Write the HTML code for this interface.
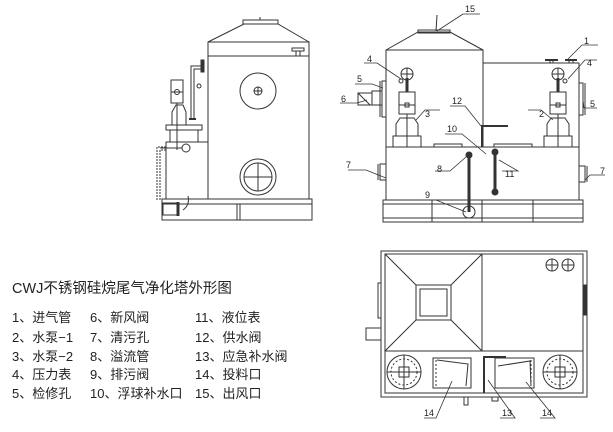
<!DOCTYPE html>
<html><head><meta charset="utf-8"><style>
html,body{margin:0;padding:0;background:#fff;}
svg{display:block;}
text{font-family:"Liberation Sans","Noto Sans CJK SC",sans-serif;fill:#222;}
</style></head><body>
<svg width="613" height="432" viewBox="0 0 613 432" xmlns="http://www.w3.org/2000/svg">
<g fill="none" stroke="#333" stroke-width="1">
<!-- LEFT SIDE VIEW -->
<rect x="208" y="42" width="101" height="157"/>
<line x1="208" y1="56" x2="309" y2="56"/>
<polyline points="208,42 244,24 278,24 309,42"/>
<rect x="243" y="20" width="35" height="4"/>
<line x1="260" y1="17" x2="260" y2="20"/>
<rect x="292" y="48" width="12" height="3"/><line x1="296" y1="51" x2="296" y2="56"/><line x1="300" y1="51" x2="300" y2="56"/>
<circle cx="258" cy="91" r="18"/><circle cx="258" cy="91" r="4"/><line x1="254" y1="91" x2="262" y2="91"/><line x1="258" y1="87" x2="258" y2="95"/>
<circle cx="258" cy="177" r="18"/><circle cx="258" cy="177" r="14"/><line x1="244" y1="177" x2="272" y2="177"/><line x1="258" y1="163" x2="258" y2="191"/>
<rect x="166" y="142" width="42" height="57"/>
<rect x="166" y="125" width="36" height="5"/>
<rect x="170" y="130" width="28" height="12"/>
<polygon points="172,125 172,112 176,105 183,105 186,112 186,125"/>
<rect x="171" y="80" width="12" height="23"/><line x1="171" y1="92" x2="183" y2="92"/><circle cx="177" cy="92" r="2.5"/>
<line x1="177" y1="103" x2="177" y2="150"/>
<circle cx="186" cy="148" r="4"/><line x1="160" y1="148" x2="182" y2="148"/>
<path d="M191 120 V66 H202 M194 120 V69 H202" /><rect x="201" y="60" width="3" height="12" fill="#333"/>
<line x1="189" y1="119" x2="196" y2="119" stroke-width="2"/>
<circle cx="199" cy="86" r="2"/>
<path d="M160 200 V150 H166 M157 200 V147 H166" stroke-dasharray="2 1"/>
<rect x="162" y="199" width="150" height="21"/>
<line x1="162" y1="204" x2="312" y2="204"/>
<line x1="237" y1="204" x2="237" y2="220"/><line x1="240" y1="204" x2="240" y2="220"/>
<rect x="163" y="203" width="14" height="12"/><line x1="178" y1="202" x2="178" y2="216" stroke-width="3"/>
<path d="M183 210 Q190 205 188 196"/>
<!-- RIGHT FRONT VIEW -->
<rect x="386" y="50" width="97" height="97"/>
<polyline points="386,50 418,32 450,32 483,50"/>
<rect x="418" y="30" width="32" height="3"/>
<line x1="437" y1="15" x2="436" y2="31"/>
<rect x="483" y="63" width="96" height="84"/>
<rect x="386" y="147" width="193" height="53"/>
<rect x="383" y="200" width="200" height="22"/>
<line x1="383" y1="204" x2="583" y2="204"/><line x1="383" y1="218" x2="583" y2="218"/>
<line x1="432" y1="200" x2="432" y2="222"/><line x1="482" y1="200" x2="482" y2="222"/><line x1="533" y1="200" x2="533" y2="222"/>
<rect x="380" y="164" width="6" height="16"/><line x1="378" y1="164" x2="378" y2="180"/>
<rect x="579" y="166" width="6" height="16"/><line x1="587" y1="166" x2="587" y2="182"/>
<rect x="579" y="83" width="4" height="32"/><line x1="585" y1="83" x2="585" y2="115"/>
<rect x="382" y="81" width="4" height="36"/><line x1="380" y1="81" x2="380" y2="117"/>
<rect x="358" y="93" width="14" height="12"/><line x1="358" y1="93" x2="370" y2="105"/><rect x="372" y="91" width="10" height="14"/>
<line x1="545" y1="60" x2="558" y2="60" stroke-width="2"/><line x1="550" y1="60" x2="550" y2="63"/><line x1="553" y1="60" x2="553" y2="63"/>
<line x1="565" y1="60" x2="577" y2="60" stroke-width="2"/><line x1="569" y1="60" x2="569" y2="63"/><line x1="573" y1="60" x2="573" y2="63"/>
<!-- pumps -->
<g id="pump">
<rect x="393" y="136" width="28" height="11"/>
<polygon points="396,136 396,124 400,118 414,118 418,124 418,136"/>
<rect x="399" y="92" width="16" height="22"/><line x1="399" y1="105" x2="415" y2="105"/><rect x="405" y="103" width="4" height="4"/>
<line x1="407" y1="114" x2="407" y2="147"/><line x1="407" y1="78" x2="407" y2="92" stroke-width="3"/>
<circle cx="407" cy="74" r="6"/><line x1="401" y1="74" x2="413" y2="74"/><line x1="407" y1="68" x2="407" y2="80"/>
</g>
<use href="#pump" transform="translate(151,0)"/>
<circle cx="401" cy="81" r="2"/><circle cx="565" cy="81" r="2"/>
<rect x="434" y="144" width="28" height="3"/><rect x="494" y="144" width="38" height="3"/>
<line x1="482" y1="125" x2="482" y2="147" stroke-width="2"/><line x1="482" y1="126" x2="508" y2="126" stroke-width="2"/>
<line x1="469" y1="155" x2="469" y2="212" stroke-width="3"/><circle cx="469" cy="155" r="3" fill="#333"/><circle cx="469" cy="212" r="6"/>
<line x1="495" y1="152" x2="495" y2="192" stroke-width="3"/><circle cx="495" cy="152" r="3" fill="#333"/><circle cx="495" cy="192" r="3" fill="#333"/>
<!-- leaders -->
<g stroke-width="0.8">
<path d="M463 14 H480 M463 14 L437 31"/>
<path d="M582 45 H598 M582 45 L567 60"/>
<path d="M364 63 H377 M377 63 L401 79"/>
<path d="M585 60 H597 M585 60 L568 79"/>
<path d="M355 84 H372 M372 84 L383 88"/>
<path d="M597 108 H584 M584 108 L583 100"/>
<path d="M340 103 H357 L367 100"/>
<path d="M425 110 L416 120 M425 110 H440"/>
<path d="M541 110 L553 120 M541 110 H528"/>
<path d="M450 106 H465 L481 126"/>
<path d="M445 134 H462 L486 154"/>
<path d="M348 170 H366 L386 178"/>
<path d="M590 175 H605 M590 175 L585 180"/>
<path d="M435 171 H450 L466 157"/>
<path d="M502 171 H518 L499 160"/>
<path d="M420 200 H436 L466 212"/>
</g>
<!-- PLAN VIEW -->
<rect x="381" y="251" width="206" height="146"/>
<rect x="385" y="254" width="198" height="139"/>
<line x1="482" y1="254" x2="482" y2="351"/>
<line x1="385" y1="351" x2="583" y2="351"/>
<rect x="416" y="285" width="35" height="35"/><rect x="420" y="289" width="27" height="27"/>
<line x1="385" y1="254" x2="416" y2="285"/><line x1="482" y1="254" x2="451" y2="285"/>
<line x1="385" y1="351" x2="416" y2="320"/><line x1="482" y1="351" x2="451" y2="320"/>
<circle cx="552" cy="265" r="6"/><line x1="546" y1="265" x2="558" y2="265"/><line x1="552" y1="259" x2="552" y2="271"/>
<circle cx="568" cy="265" r="6"/><line x1="562" y1="265" x2="574" y2="265"/><line x1="568" y1="259" x2="568" y2="271"/>
<rect x="378" y="283" width="3" height="35"/>
<rect x="366" y="328" width="15" height="12"/>
<rect x="583" y="285" width="3" height="30" fill="#333"/>
<circle cx="404" cy="372" r="17"/><circle cx="404" cy="372" r="13" stroke-dasharray="2 2"/><line x1="387" y1="372" x2="421" y2="372"/><line x1="404" y1="355" x2="404" y2="389"/><rect x="399" y="367" width="10" height="10"/>
<circle cx="560" cy="372" r="17"/><circle cx="560" cy="372" r="13" stroke-dasharray="2 2"/><line x1="543" y1="372" x2="577" y2="372"/><line x1="560" y1="355" x2="560" y2="389"/><rect x="555" y="367" width="10" height="10"/>
<rect x="433" y="358" width="38" height="30"/><polyline points="437,360 468,364 466,386"/><line x1="436" y1="360" x2="436" y2="386" stroke-dasharray="2 2"/>
<rect x="495" y="358" width="39" height="30"/><polyline points="498,366 530,361 531,386"/><line x1="531" y1="360" x2="531" y2="386" stroke-dasharray="2 2"/>
<path d="M484 393 V357 H506" stroke-width="2"/>
<rect x="464" y="397" width="4" height="8"/><rect x="492" y="397" width="6" height="4"/>
<g stroke-width="0.8">
<path d="M424 418 H436 L452 381"/>
<path d="M500 418 H515 L488 380"/>
<path d="M540 418 H555 L526 382"/>
</g>
</g>
<!-- labels -->
<g font-size="9">
<text x="465" y="12">15</text>
<text x="584" y="44">1</text>
<text x="367" y="62">4</text>
<text x="587" y="66">4</text>
<text x="357" y="82">5</text>
<text x="590" y="107">5</text>
<text x="341" y="102">6</text>
<text x="425" y="117">3</text>
<text x="539" y="117">2</text>
<text x="452" y="104">12</text>
<text x="447" y="132">10</text>
<text x="346" y="168">7</text>
<text x="600" y="174">7</text>
<text x="437" y="172">8</text>
<text x="505" y="177">11</text>
<text x="425" y="198">9</text>
<text x="424" y="416">14</text>
<text x="502" y="416">13</text>
<text x="542" y="416">14</text>
</g>
<text x="12" y="293" font-size="14.5">CWJ不锈钢硅烷尾气净化塔外形图</text>
<g font-size="13">
<text x="12" y="322">1、进气管</text><text x="90" y="322">6、新风阀</text><text x="195" y="322">11、液位表</text>
<text x="12" y="342">2、水泵−1</text><text x="90" y="342">7、清污孔</text><text x="195" y="342">12、供水阀</text>
<text x="12" y="361">3、水泵−2</text><text x="90" y="361">8、溢流管</text><text x="195" y="361">13、应急补水阀</text>
<text x="12" y="379">4、压力表</text><text x="90" y="379">9、排污阀</text><text x="195" y="379">14、投料口</text>
<text x="12" y="398">5、检修孔</text><text x="90" y="398">10、浮球补水口</text><text x="195" y="398">15、出风口</text>
</g>
</svg>
</body></html>
